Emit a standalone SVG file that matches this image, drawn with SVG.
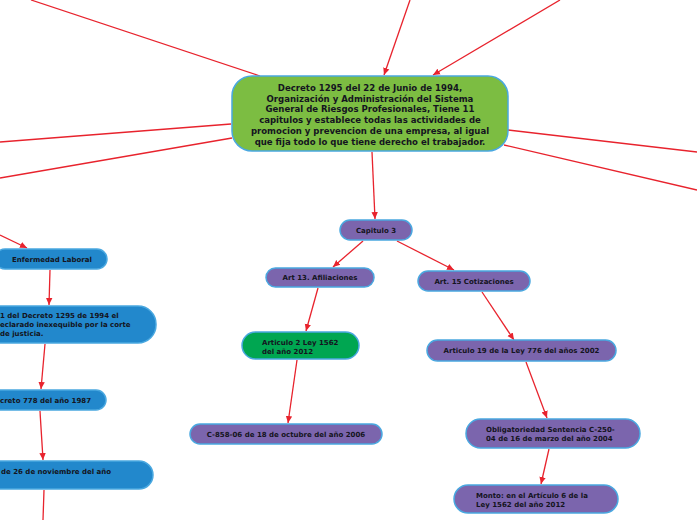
<svg xmlns="http://www.w3.org/2000/svg" width="697" height="520" viewBox="0 0 697 520">
<style>
.n rect{stroke:#4aa8e0;stroke-width:1.5}
.p rect{fill:#7b65ad}
.b rect{fill:#2288cc}
.g rect{fill:#00a651}
.c rect{fill:#7cbd42}
text{font-family:"DejaVu Sans",sans-serif;font-weight:bold;font-size:7px;fill:#141420}
.m{text-anchor:middle}
.ct{font-family:"DejaVu Sans Condensed","DejaVu Sans",sans-serif;font-size:9.5px;text-anchor:middle}
#edges line{stroke:#e8232d;stroke-width:1.3;fill:none}
</style>
<defs>
<marker id="ah" markerUnits="userSpaceOnUse" markerWidth="8" markerHeight="8" refX="7" refY="4" orient="auto">
<path d="M0,0.8 L7,4 L0,7.2 Z" fill="#e8232d"/>
</marker>
</defs>
<rect width="697" height="520" fill="#ffffff"/>
<g id="edges">
<line x1="31" y1="0" x2="260" y2="76"/>
<line x1="410" y1="0" x2="384" y2="75" marker-end="url(#ah)"/>
<line x1="560" y1="0" x2="433" y2="75" marker-end="url(#ah)"/>
<line x1="0" y1="142" x2="231" y2="124"/>
<line x1="0" y1="178" x2="232" y2="138"/>
<line x1="508" y1="130" x2="697" y2="152"/>
<line x1="504" y1="145" x2="697" y2="190"/>
<line x1="372" y1="152" x2="375" y2="219" marker-end="url(#ah)"/>
<line x1="363" y1="241" x2="333" y2="267" marker-end="url(#ah)"/>
<line x1="397" y1="241" x2="454" y2="270" marker-end="url(#ah)"/>
<line x1="318" y1="288" x2="306" y2="331" marker-end="url(#ah)"/>
<line x1="297" y1="360" x2="288" y2="423" marker-end="url(#ah)"/>
<line x1="482" y1="292" x2="514" y2="340" marker-end="url(#ah)"/>
<line x1="526" y1="362" x2="547" y2="418" marker-end="url(#ah)"/>
<line x1="549" y1="449" x2="541" y2="484" marker-end="url(#ah)"/>
<line x1="0" y1="235" x2="27" y2="248" marker-end="url(#ah)"/>
<line x1="50" y1="270" x2="49" y2="305" marker-end="url(#ah)"/>
<line x1="45" y1="344" x2="41" y2="389" marker-end="url(#ah)"/>
<line x1="40" y1="411" x2="43" y2="460" marker-end="url(#ah)"/>
<line x1="44" y1="490" x2="43" y2="520"/>
</g>
<g id="central" class="n c">
<rect x="232" y="76" width="276" height="75" rx="20"/>
<text class="ct" x="370" y="91">Decreto 1295 del 22 de Junio de 1994,</text>
<text class="ct" x="370" y="101.7">Organización y Administración del Sistema</text>
<text class="ct" x="370" y="112.4">General de Riesgos Profesionales, Tiene 11</text>
<text class="ct" x="370" y="123.1">capitulos y establece todas las actividades de</text>
<text class="ct" x="370" y="133.8">promocion y prevencion de una empresa, al igual</text>
<text class="ct" x="370" y="144.5">que fija todo lo que tiene derecho el trabajador.</text>
</g>
<g id="capitulo3" class="n p">
<rect x="340" y="220" width="72" height="20" rx="10"/>
<text class="m" x="376" y="232.5">Capitulo 3</text>
</g>
<g id="art13" class="n p">
<rect x="266" y="268" width="108" height="19" rx="9.5"/>
<text class="m" x="320" y="280">Art 13. Afiliaciones</text>
</g>
<g id="art15" class="n p">
<rect x="418" y="271" width="112" height="20" rx="10"/>
<text class="m" x="474" y="283.5">Art. 15 Cotizaciones</text>
</g>
<g id="articulo2" class="n g">
<rect x="242" y="332" width="117" height="27" rx="13.5"/>
<text x="262" y="344.5">Articulo 2 Ley 1562</text>
<text x="262" y="353.5">del año 2012</text>
</g>
<g id="c858" class="n p">
<rect x="190" y="424" width="192" height="20" rx="10"/>
<text class="m" x="286" y="436.5">C-858-06 de 18 de octubre del año 2006</text>
</g>
<g id="articulo19" class="n p">
<rect x="427" y="340" width="189" height="21" rx="10.5"/>
<text class="m" x="521.5" y="353">Articulo 19 de la Ley 776 del años 2002</text>
</g>
<g id="obligatoriedad" class="n p">
<rect x="466" y="419" width="174" height="29" rx="14.5"/>
<text x="486" y="432">Obligatoriedad Sentencia C-250-</text>
<text x="486" y="441">04 de 16 de marzo del año 2004</text>
</g>
<g id="monto" class="n p">
<rect x="454" y="485" width="164" height="28" rx="14"/>
<text x="476" y="498">Monto: en el Artículo 6 de la</text>
<text x="476" y="507">Ley 1562 del año 2012</text>
</g>
<g id="enfermedad" class="n b">
<rect x="-5" y="249" width="112" height="20" rx="10"/>
<text x="12" y="261.5">Enfermedad Laboral</text>
</g>
<g id="inexequible" class="n b">
<rect x="-30" y="306" width="186" height="37" rx="18"/>
<text x="0" y="318">1 del Decreto 1295 de 1994 el</text>
<text x="0" y="327">eclarado inexequible por la corte</text>
<text x="0" y="336">de justicia.</text>
</g>
<g id="decreto778" class="n b">
<rect x="-30" y="390" width="136" height="20" rx="10"/>
<text x="0" y="402.5">creto 778 del año 1987</text>
</g>
<g id="noviembre" class="n b">
<rect x="-30" y="461" width="183" height="28" rx="14"/>
<text x="1" y="473.5">de 26 de noviembre del año</text>
</g>
</svg>
